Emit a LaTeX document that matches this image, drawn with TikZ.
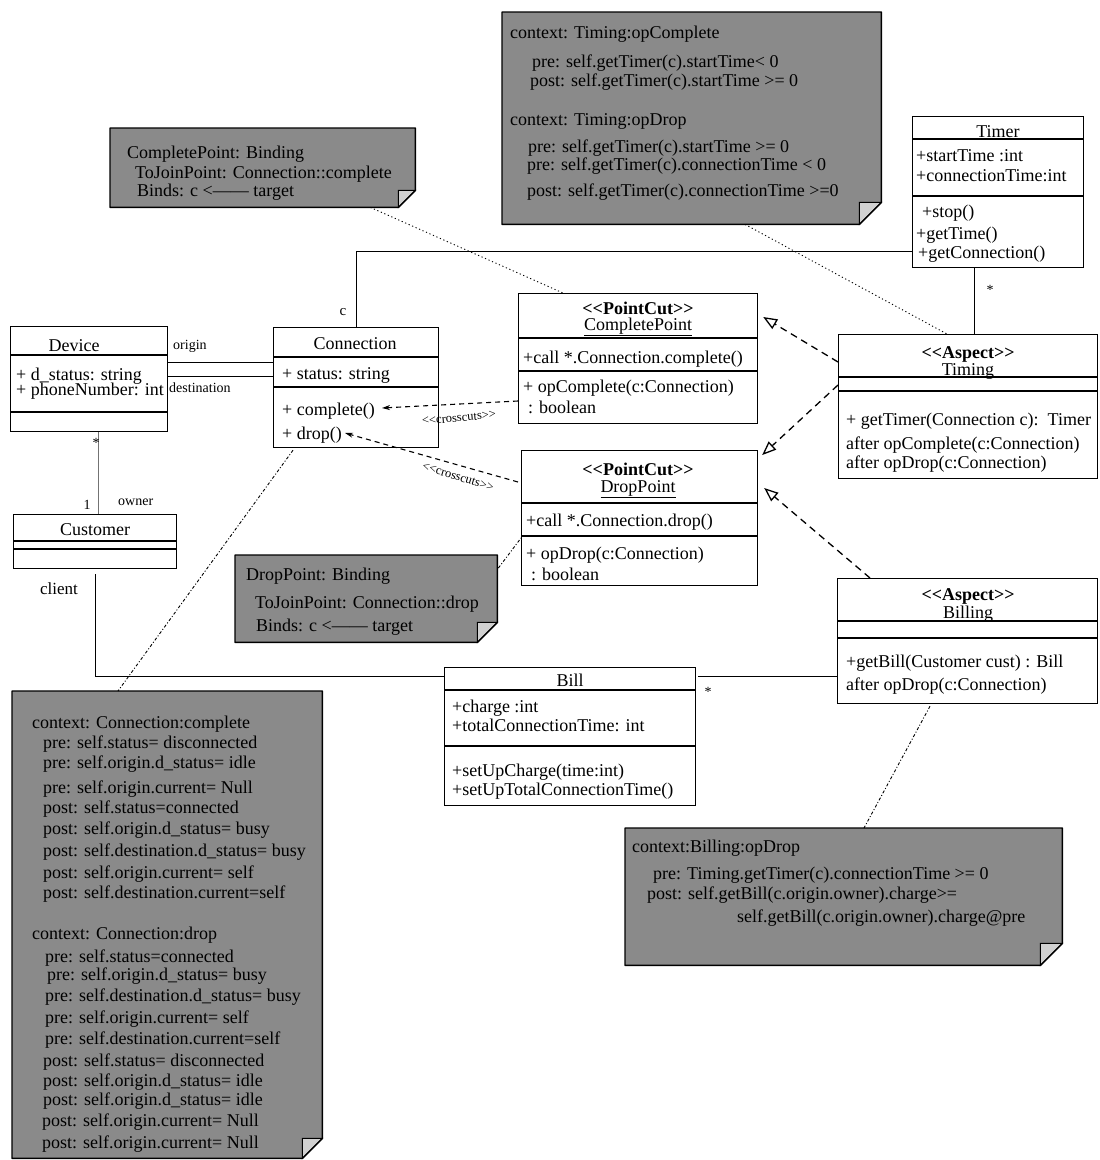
\documentclass[tikz,border=0pt]{standalone}
\usepackage{fontspec}
\setmainfont{Liberation Serif}[Ligatures=TeXOff]
\usetikzlibrary{arrows.meta,calc}
\definecolor{notegray}{gray}{0.54}
\definecolor{foldgray}{gray}{0.82}
\definecolor{assocgray}{gray}{0.45}
\newcommand\fs[1]{\fontsize{#1}{#1}\selectfont}
% horizontal compartment line inside a class box
\newcommand\compline[2]{\draw[sep] ($(#1.north west)+(0,#2)$) -- ($(#1.north east)+(0,#2)$);}
% UML note with folded lower-right corner: name, x, y, width, height, fold
\newcommand\umlnote[6]{%
  \node[inner sep=0pt, minimum width=#4pt, minimum height=#5pt, anchor=north west] (#1) at (#2,#3) {};
  \fill[notegray] (#1.north west) -- (#1.north east) -- ($(#1.south east)+(0,-#6)$)
     -- ($(#1.south east)+(-#6,0)$) -- (#1.south west) -- cycle;
  \filldraw[fill=foldgray, line width=0.9pt] ($(#1.south east)+(0,-#6)$)
     -- ($(#1.south east)+(-#6,-#6)$) -- ($(#1.south east)+(-#6,0)$) -- cycle;
  \draw[line width=1.4pt, line join=round] (#1.north west) -- (#1.north east) -- ($(#1.south east)+(0,-#6)$)
     -- ($(#1.south east)+(-#6,0)$) -- (#1.south west) -- cycle;
}
\begin{document}
\begin{tikzpicture}[x=1pt, y=-1pt,
  box/.style={draw, line width=1.2pt, fill=white, inner sep=0pt, anchor=north west},
  sep/.style={line width=1.1pt},
  t/.style={anchor=base west, inner sep=0pt, yshift=-6pt, font=\fs{18}},
  tc/.style={anchor=base, inner sep=0pt, yshift=-6pt, font=\fs{18}},
  lbl/.style={inner sep=0pt, font=\fs{14}},
  assoc/.style={line width=1pt},
  realize/.style={line width=1.3pt, dash pattern=on 7pt off 5pt,
    -{Triangle[open, length=14pt, width=11pt, line width=1.3pt]}},
  cross/.style={line width=1.1pt, dash pattern=on 5pt off 4pt,
    -{Stealth[length=8pt, width=5pt]}},
  dotline/.style={line width=0.9pt, dash pattern=on 1.2pt off 2.6pt},
  dashdotline/.style={line width=0.9pt, dash pattern=on 3pt off 2pt on 1pt off 2pt},
]
\fill[white] (0,0) rectangle (1100,1160);
\useasboundingbox (0,0) rectangle (1100,1160);

% ---------- notes ----------
\umlnote{nA}{502}{12}{379}{212}{22}
\foreach \x/\y/\s [count=\i] in {
  510/32/context: Timing:opComplete,
  532/61/pre: self.getTimer(c).startTime< 0,
  530/80/post: self.getTimer(c).startTime >= 0,
  510/119/context: Timing:opDrop,
  528/146/pre: self.getTimer(c).startTime >= 0,
  527/164/pre: self.getTimer(c).connectionTime < 0,
  527/190/post: self.getTimer(c).connectionTime >=0}
  \node[t] (nA\i) at (\x,\y) {\s};

\umlnote{nB}{110}{128}{305}{79}{17}
\foreach \x/\y/\s [count=\i] in {
  127/152/CompletePoint: Binding,
  135/172/ToJoinPoint: Connection::complete,
  137/190/Binds: c <—— target}
  \node[t] (nB\i) at (\x,\y) {\s};

\umlnote{nC}{235}{555}{262}{87}{20}
\foreach \x/\y/\s [count=\i] in {
  246/574/DropPoint: Binding,
  255/602/ToJoinPoint: Connection::drop,
  256/625/Binds: c <—— target}
  \node[t] (nC\i) at (\x,\y) {\s};

\umlnote{nD}{12}{691}{310}{467}{20}
\foreach \x/\y/\s [count=\i] in {
  32/722/context: Connection:complete,
  43/742/pre: self.status= disconnected,
  43/762/pre: self.origin.d\_status= idle,
  43/787/pre: self.origin.current= Null,
  43/807/post: self.status=connected,
  43/828/post: self.origin.d\_status= busy,
  43/850/post: self.destination.d\_status= busy,
  43/872/post: self.origin.current= self,
  43/892/post: self.destination.current=self,
  32/933/context: Connection:drop,
  45/956/pre: self.status=connected,
  47/974/pre: self.origin.d\_status= busy,
  45/995/pre: self.destination.d\_status= busy,
  45/1017/pre: self.origin.current= self,
  45/1038/pre: self.destination.current=self,
  43/1060/post: self.status= disconnected,
  43/1080/post: self.origin.d\_status= idle,
  43/1099/post: self.origin.d\_status= idle,
  42/1120/post: self.origin.current= Null,
  42/1142/post: self.origin.current= Null}
  \node[t] (nD\i) at (\x,\y) {\s};

\umlnote{nE}{625}{828}{437}{137}{22}
\foreach \x/\y/\s [count=\i] in {
  632/846/context:Billing:opDrop,
  653/873/pre: Timing.getTimer(c).connectionTime >= 0,
  647/893/post: self.getBill(c.origin.owner).charge>=,
  737/916/self.getBill(c.origin.owner).charge@pre}
  \node[t] (nE\i) at (\x,\y) {\s};

% ---------- classes ----------
\node[box, minimum width=157pt, minimum height=105pt] (dev) at (10,326) {};
\compline{dev}{29} \compline{dev}{86}
\node[tc] (devN) at (74,345) {Device};
\node[t] (devA1) at (16,374) {+ d\_status: string};
\node[t] (devA2) at (16,389) {+ phoneNumber: int};

\node[box, minimum width=165pt, minimum height=120pt] (conn) at (273,327) {};
\compline{conn}{30} \compline{conn}{60}
\node[tc] (connN) at (355,343) {Connection};
\node[t] (connA1) at (282,373) {+ status: string};
\node[t] (connO1) at (282,409) {+ complete()};
\node[t] (connO2) at (282,433) {+ drop()};

\node[box, minimum width=239pt, minimum height=130pt] (cp) at (518,293) {};
\compline{cp}{45} \compline{cp}{78}
\node[tc] (cpS) at (638,308) {\textbf{<<PointCut>>}};
\node[tc] (cpN) at (638,324) {\underline{CompletePoint}};
\node[t] (cpA1) at (523,357) {+call *.Connection.complete()};
\node[t] (cpO1) at (523,386) {+ opComplete(c:Connection)};
\node[t] (cpO2) at (528,407) {: boolean};

\node[box, minimum width=236pt, minimum height=135pt] (dp) at (521,450) {};
\compline{dp}{53} \compline{dp}{86}
\node[tc] (dpS) at (638,469) {\textbf{<<PointCut>>}};
\node[tc] (dpN) at (638,486) {\underline{DropPoint}};
\node[t] (dpA1) at (526,520) {+call *.Connection.drop()};
\node[t] (dpO1) at (526,553) {+ opDrop(c:Connection)};
\node[t] (dpO2) at (531,574) {: boolean};

\node[box, minimum width=171pt, minimum height=151pt] (timer) at (912,116) {};
\compline{timer}{23} \compline{timer}{80}
\node[tc] (timerN) at (998,131) {Timer};
\node[t] (timerA1) at (916,155) {+startTime :int};
\node[t] (timerA2) at (916,175) {+connectionTime:int};
\node[t] (timerO1) at (922,211) {+stop()};
\node[t] (timerO2) at (916,233) {+getTime()};
\node[t] (timerO3) at (918,252) {+getConnection()};

\node[box, minimum width=259pt, minimum height=144pt] (timing) at (838,334) {};
\compline{timing}{43} \compline{timing}{57}
\node[tc] (timingS) at (968,352) {\textbf{<<Aspect>>}};
\node[tc] (timingN) at (968,369) {Timing};
\node[t] (timingO1) at (846,419) {+ getTimer(Connection c):\ \ Timer};
\node[t] (timingO2) at (846,443) {after opComplete(c:Connection)};
\node[t] (timingO3) at (846,462) {after opDrop(c:Connection)};

\node[box, minimum width=260pt, minimum height=125pt] (billing) at (837,578) {};
\compline{billing}{43} \compline{billing}{60}
\node[tc] (billingS) at (968,594) {\textbf{<<Aspect>>}};
\node[tc] (billingN) at (968,612) {Billing};
\node[t] (billingO1) at (846,661) {+getBill(Customer cust) : Bill};
\node[t] (billingO2) at (846,684) {after opDrop(c:Connection)};

\node[box, minimum width=251pt, minimum height=138pt] (bill) at (444,667) {};
\compline{bill}{23} \compline{bill}{79}
\node[tc] (billN) at (570,680) {Bill};
\node[t] (billA1) at (452,706) {+charge :int};
\node[t] (billA2) at (452,725) {+totalConnectionTime: int};
\node[t] (billO1) at (452,770) {+setUpCharge(time:int)};
\node[t] (billO2) at (452,789) {+setUpTotalConnectionTime()};

\node[box, minimum width=163pt, minimum height=54pt] (cust) at (13,514) {};
\compline{cust}{27} \compline{cust}{35}
\node[tc] (custN) at (95,529) {Customer};

% ---------- associations ----------
\coordinate (origA) at ($(dev.north east)+(0,36)$);
\coordinate (destA) at ($(dev.north east)+(0,50)$);
\draw[assoc] (origA) -- (origA -| conn.west);
\draw[assoc] (destA) -- (destA -| conn.west);
\node[lbl, anchor=west] (lOrig) at (173,346) {origin};
\node[lbl, anchor=west] (lDest) at (169,388) {destination};

\coordinate (ownA) at ($(dev.south west)+(88,0)$);
\draw[assoc, assocgray] (ownA) -- (ownA |- cust.north);
\node[lbl] (lDevMult) at (96,443) {*};
\node[lbl] (lCustMult) at (87,505) {1};
\node[lbl, anchor=west] (lOwner) at (118,502) {owner};

\coordinate (cliA) at ($(cust.south)+(0,5)$);
\coordinate (billIn) at ($(bill.north west)+(0,9)$);
\draw[assoc] (cliA) |- (billIn);
\node[inner sep=0pt, anchor=west, font=\fs{17}] (lClient) at (40,589) {client};

\draw[assoc] (conn.north) |- ($(timer.north west)+(0,135)$);
\node[lbl, font=\fs{15}] (lC) at (343,312) {c};

\coordinate (tmA) at ($(timer.south west)+(62,0)$);
\draw[assoc] (tmA) -- (tmA |- timing.north);
\node[lbl] (lTimerMult) at (990,290) {*};

\coordinate (blA) at ($(bill.north east)+(2,9)$);
\draw[assoc] (blA) -- (blA -| billing.west);
\node[lbl] (lBillMult) at (708,692) {*};

% ---------- crosscuts ----------
\draw[cross] ($(cp.north west)+(0,108)$) -- ($(conn.north west)+(109,81)$);
\draw[cross] ($(dp.north west)+(-3,32)$) -- ($(conn.north west)+(72,106)$);
\node[inner sep=0pt, font=\fs{12.5}, rotate=5] (lCross1) at (459,418) {<<crosscuts>>};
\node[inner sep=0pt, font=\fs{12.5}, rotate=-17] (lCross2) at (458,477) {<<crosscuts>>};

% ---------- realizations ----------
\draw[realize] ($(timing.north west)+(0,28)$) -- ($(cp.north east)+(5,24)$);
\draw[realize] ($(timing.north west)+(0,51)$) -- ($(dp.north east)+(4,5)$);
\draw[realize] ($(billing.north west)+(33,0)$) -- ($(dp.north east)+(6,38)$);

% ---------- note anchors ----------
\draw[dotline] ($(nB.south east)+(-45,0)$) -- ($(cp.north west)+(45,0)$);
\draw[dotline] ($(nA.south west)+(243,0)$) -- ($(timing.north west)+(109,0)$);
\draw[dashdotline] ($(conn.south west)+(20,2)$) -- ($(nD.north west)+(106,0)$);
\draw[dashdotline] ($(nC.north east)+(1,13)$) -- ($(dp.north west)+(0,88)$);
\draw[dashdotline] ($(billing.south west)+(93,2)$) -- ($(nE.north west)+(239,0)$);
\end{tikzpicture}
\end{document}
